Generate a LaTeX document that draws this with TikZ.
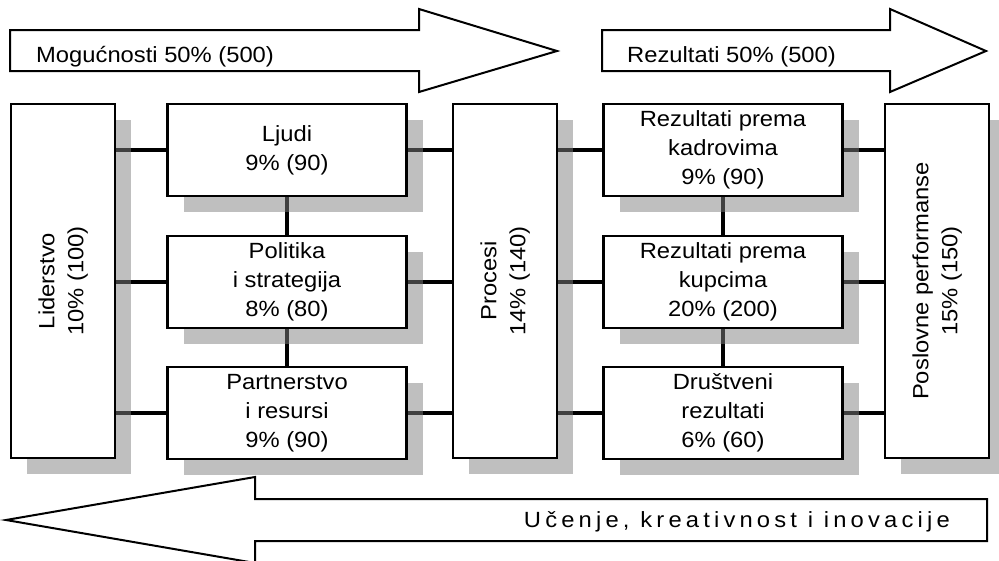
\documentclass[tikz,border=0pt]{standalone}
\usepackage{fontspec}
\setmainfont{Liberation Sans}[FakeStretch=1.08]
\usepackage{tikz}
\usetikzlibrary{shadows,backgrounds}

\begin{document}
\begin{tikzpicture}[x=1pt,y=-1pt,
  box/.style={draw=black,fill=white,line width=2.2pt,align=center,
    drop shadow={shadow xshift=16pt,shadow yshift=-16pt,fill=black!50,opacity=0.5}},
  widebox/.style={box,minimum width=239pt,minimum height=92pt},
  tallbox/.style={box,minimum width=104pt,minimum height=354pt},
  link/.style={line width=4pt},
  bigarrow/.style={draw=black,fill=white,line width=2pt,line join=miter}]
\tikzstyle{every node}+=[inner sep=0pt,font=\fontsize{22}{29}\selectfont]
\useasboundingbox (0,0) rectangle (999,560);
% arrows
\draw [bigarrow] (10,30) -- (419,30) -- (419,9) -- (557,51) -- (419,92) -- (419,71) -- (10,71) -- cycle;
\node [anchor=base west] (mog) at (36,62) {Mogućnosti 50\% (500)};
\draw [bigarrow] (602,30) -- (890,30) -- (890,9) -- (986,51) -- (890,92) -- (890,71) -- (602,71) -- cycle;
\node [anchor=base west] (rez) at (627,62) {Rezultati 50\% (500)};
\draw [bigarrow] (987,499) -- (255,499) -- (255,477) -- (6,520) -- (255,563) -- (255,541) -- (987,541) -- cycle;
\node [anchor=base east] (uce) at (950,527) {\addfontfeature{LetterSpace=19}Učenje, kreativnost i inovacije};
% boxes
\node [tallbox] (lid) at (63,281) {\rotatebox{90}{\begin{tabular}{@{}c@{}}Liderstvo\\10\% (100)\end{tabular}}};
\node [widebox] (ljudi) at (287,150) {Ljudi\\9\% (90)};
\node [widebox] (pol) at (287,282) {Politika\\i strategija\\8\% (80)};
\node [widebox] (part) at (287,413) {Partnerstvo\\i resursi\\9\% (90)};
\node [tallbox] (proc) at (505,281) {\rotatebox{90}{\begin{tabular}{@{}c@{}}Procesi\\14\% (140)\end{tabular}}};
\node [widebox] (kadr) at (723,150) {Rezultati prema\\kadrovima\\9\% (90)};
\node [widebox] (kup) at (723,282) {Rezultati prema\\kupcima\\20\% (200)};
\node [widebox] (drus) at (723,413) {Društveni\\rezultati\\6\% (60)};
\node [tallbox] (posl) at (937,281) {\rotatebox{90}{\begin{tabular}{@{}c@{}}Poslovne performanse\\15\% (150)\end{tabular}}};
% connectors
\begin{scope}[on background layer]
\draw [link] (lid.east |- ljudi) -- (ljudi.west);
\draw [link] (lid.east |- pol) -- (pol.west);
\draw [link] (lid.east |- part) -- (part.west);
\draw [link] (ljudi.east) -- (proc.west |- ljudi);
\draw [link] (pol.east) -- (proc.west |- pol);
\draw [link] (part.east) -- (proc.west |- part);
\draw [link] (proc.east |- kadr) -- (kadr.west);
\draw [link] (proc.east |- kup) -- (kup.west);
\draw [link] (proc.east |- drus) -- (drus.west);
\draw [link] (kadr.east) -- (posl.west |- kadr);
\draw [link] (kup.east) -- (posl.west |- kup);
\draw [link] (drus.east) -- (posl.west |- drus);
\draw [link] (ljudi) -- (pol);
\draw [link] (pol) -- (part);
\draw [link] (kadr) -- (kup);
\draw [link] (kup) -- (drus);
\end{scope}
\end{tikzpicture}
\end{document}
